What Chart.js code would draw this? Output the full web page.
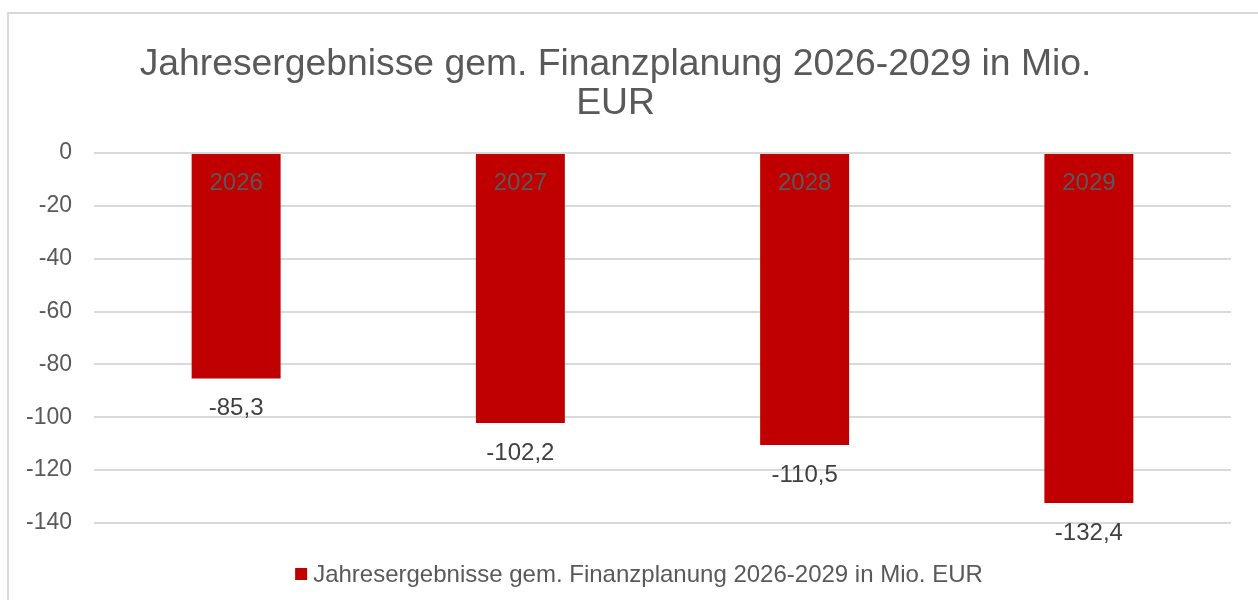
<!DOCTYPE html>
<html>
<head>
<meta charset="utf-8">
<script src="https://cdn.jsdelivr.net/npm/chart.js@4/dist/chart.umd.min.js"></script>
<style>
	html, body { margin: 0; padding: 0; background: #fff; overflow: hidden; }
	#wrap { position: relative; width: 1258px; height: 600px; }
	#frame { position: absolute; left: 7px; top: 12px; width: 1400px; height: 700px; border: 2px solid #d9d9d9; }
	#chart { position: absolute; left: 0; top: 0; }
</style>
</head>
<body>
<div id="wrap">
	<div id="frame"></div>
	<canvas id="chart" width="1258" height="600"></canvas>
</div>
<script>
// Daten
const years = ['2026', '2027', '2028', '2029'];
const results = [-85.3, -102.2, -110.5, -132.4];
const yTicks = [0, -20, -40, -60, -80, -100, -120, -140];
const seriesName = 'Jahresergebnisse gem. Finanzplanung 2026-2029 in Mio. EUR';
const titleLines = ['Jahresergebnisse gem. Finanzplanung 2026-2029 in Mio.', 'EUR'];

const FONT = '"Liberation Sans", Arial, sans-serif';
const barRed = '#C00000';

// Jahreszahlen in den Balken + Werte unter den Balken
const labelsPlugin = {
	id: 'barLabels',
	afterDatasetsDraw(chart) {
		const ctx = chart.ctx;
		const meta = chart.getDatasetMeta(0);
		const yZero = chart.scales.y.getPixelForValue(0);
		ctx.save();
		ctx.font = '24px ' + FONT;
		ctx.textAlign = 'center';
		ctx.textBaseline = 'alphabetic';
		meta.data.forEach((bar, i) => {
			ctx.fillStyle = '#595959';
			ctx.fillText(chart.data.labels[i], bar.x, yZero + 36.5);
			ctx.fillStyle = '#404040';
			var val = chart.data.datasets[0].data[i].toFixed(1).replace('.', ',');
			ctx.fillText(val, bar.x, bar.y + 37);
		});
		ctx.restore();
	}
};

// Legende unten
const legendPlugin = {
	id: 'bottomLegend',
	afterDraw(chart) {
		const ctx = chart.ctx;
		const ds = chart.data.datasets[0];
		ctx.save();
		ctx.font = '24px ' + FONT;
		var tw = ctx.measureText(ds.label).width;
		var total = 12 + 6 + tw;
		var x0 = 639 - total / 2;
		var yc = 574;
		ctx.fillStyle = ds.backgroundColor;
		ctx.fillRect(x0, yc - 6, 12, 12);
		ctx.fillStyle = '#595959';
		ctx.textAlign = 'left';
		ctx.textBaseline = 'middle';
		ctx.fillText(ds.label, x0 + 18, yc + 1);
		ctx.restore();
	}
};

var ctx = document.getElementById('chart').getContext('2d');
const config = {
	type: 'bar',
	data: {
		labels: years,
		datasets: [{
			label: seriesName,
			data: results,
			backgroundColor: barRed,
			borderWidth: 0,
			categoryPercentage: 1,
			barPercentage: 0.313
		}]
	},
	options: {
		responsive: false,
		animation: false,
		layout: { padding: { left: 0, right: 27, top: 15, bottom: 77 } },
		plugins: {
			legend: { display: false },
			tooltip: { enabled: false },
			title: {
				display: true,
				text: titleLines,
				color: '#595959',
				font: { family: FONT, size: 37.3, weight: 'normal', lineHeight: 1.05 },
				padding: { top: 30.4, bottom: 29.3 }
			}
		},
		scales: {
			x: { display: false },
			y: {
				min: -140,
				max: 0,
				afterFit: function(scale) { scale.width = 94; },
				afterBuildTicks: function(scale) { scale.ticks = yTicks.map(v => ({ value: v })); },
				border: { display: false },
				grid: { color: '#d9d9d9', lineWidth: 2, drawTicks: false },
				ticks: {
					color: '#595959',
					padding: 22,
					font: { family: FONT, size: 23 },
					callback: function(v) { return String(v); }
				}
			}
		}
	},
	plugins: [labelsPlugin, legendPlugin]
};
var chart = new Chart(ctx, config);
</script>
</body>
</html>
